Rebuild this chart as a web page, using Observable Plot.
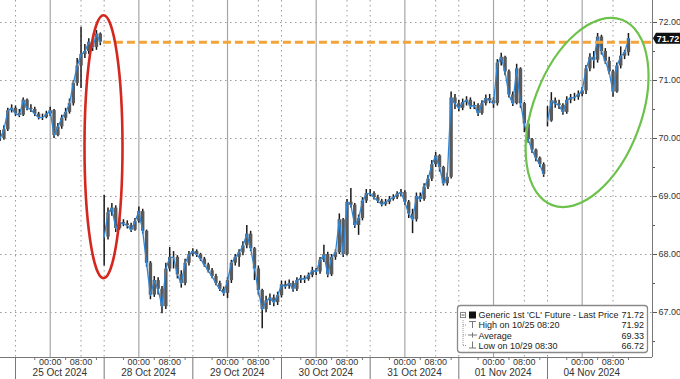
<!DOCTYPE html>
<html><head><meta charset="utf-8">
<script src="https://cdn.jsdelivr.net/npm/d3@7"></script>
<script src="https://cdn.jsdelivr.net/npm/@observablehq/plot@0.6"></script>
<style>
html,body{margin:0;padding:0;background:#fff;}
#chart{position:relative;width:680px;height:379px;overflow:hidden;}
svg{display:block;}
</style></head><body><div id="chart"></div>
<script>
// ---------- data (x = trading-hour index, 23h sessions, weekends collapsed) ----------
const sessionLabels = ["25 Oct 2024","28 Oct 2024","29 Oct 2024","30 Oct 2024","31 Oct 2024","01 Nov 2024","04 Nov 2024"];
const sessionStarts = [0, 23, 46, 69, 92, 115, 138];
const clockLabels = ["00:00", "08:00"];
const clockOffsets = [9, 17];          // hours after session open
const minorOffsets = [5, 13, 21];      // 20:00, 04:00, 12:00
const priceTicks = [67, 68, 69, 70, 71, 72];
const minorPriceTicks = [66.5, 67.5, 68.5, 69.5, 70.5, 71.5];
const weekOpens = [23, 138];
const firstHour = -4;
const close = [
  70.0, 70.15, 70.48, 70.52,
  70.43, 70.4, 70.66, 70.52, 70.5, 70.42, 70.36, 70.36, 70.42, 70.48, 70.05, 70.2, 70.35, 70.45, 70.6, 70.95, 71.25, 71.45, 71.5, 71.66, 71.57, 71.8, 71.66,
  68.3, 68.72, 68.8, 68.45, 68.55, 68.53, 68.5, 68.42, 68.57, 68.74, 68.4, 67.85, 67.3, 67.55, 67.4, 67.1, 67.75, 67.95, 67.95, 67.65, 67.5, 67.85, 68.0,
  68.05, 68.0, 67.92, 67.82, 67.72, 67.62, 67.5, 67.4, 67.33, 67.55, 67.85, 67.95, 68.03, 68.15, 68.35, 68.1, 67.75, 67.38, 67.05, 67.2, 67.25, 67.17, 67.29,
  67.48, 67.45, 67.5, 67.4, 67.55, 67.59, 67.57, 67.64, 67.72, 67.7, 67.9, 68.0, 67.65, 67.95, 68.03, 68.6, 68.0, 68.9, 68.85, 68.5, 68.62, 68.92, 69.05,
  69.05, 68.98, 68.92, 68.86, 68.9, 68.95, 68.98, 69.04, 69.07, 68.9, 68.7, 68.6, 69.0, 68.95, 69.16, 69.3, 69.55, 69.7, 69.5, 69.22, 69.33, 70.7, 70.6,
  70.52, 70.62, 70.66, 70.55, 70.57, 70.43, 70.6, 70.69, 70.65, 70.6, 71.3, 71.4, 71.15, 70.75, 70.6, 71.2, 70.6, 70.25, 69.98, 69.8, 69.66, 69.55, 69.38,
  70.3, 70.65, 70.6, 70.57, 70.45, 70.66, 70.7, 70.71, 70.76, 70.82, 71.2, 71.4, 71.35, 71.75, 71.5, 71.33, 71.15, 70.8, 71.25, 71.42, 71.48, 71.72
];
const high = [
  70.14, 70.22, 70.52, 70.58,
  70.56, 70.5, 70.7, 70.68, 70.58, 70.54, 70.45, 70.42, 70.47, 70.54, 70.5, 70.26, 70.4, 70.52, 70.68, 71.0, 71.38, 71.92, 71.62, 71.72, 71.7, 71.86, 71.82,
  69.02, 68.8, 68.88, 68.84, 68.62, 68.6, 68.58, 68.54, 68.62, 68.82, 68.78, 68.42, 67.88, 67.62, 67.6, 67.45, 67.85, 68.12, 68.05, 67.98, 67.72, 67.92, 68.05,
  68.1, 68.08, 68.02, 67.95, 67.85, 67.76, 67.66, 67.54, 67.44, 67.6, 67.9, 68.0, 68.08, 68.22, 68.5, 68.4, 68.12, 67.8, 67.4, 67.28, 67.32, 67.3, 67.35,
  67.54, 67.54, 67.56, 67.54, 67.6, 67.64, 67.63, 67.68, 67.78, 67.76, 67.95, 68.16, 68.04, 68.0, 68.08, 68.7, 68.62, 68.95, 69.14, 68.88, 68.68, 68.98, 69.12,
  69.12, 69.08, 69.02, 68.95, 68.95, 69.0, 69.03, 69.08, 69.12, 69.1, 68.93, 68.78, 69.06, 69.06, 69.22, 69.36, 69.62, 69.76, 69.72, 69.52, 69.4, 70.8, 70.76,
  70.66, 70.68, 70.72, 70.7, 70.63, 70.6, 70.65, 70.75, 70.76, 70.7, 71.36, 71.47, 71.42, 71.18, 70.8, 71.28, 71.22, 70.62, 70.3, 70.0, 69.82, 69.68, 69.58,
  70.55, 70.79, 70.7, 70.66, 70.6, 70.72, 70.76, 70.78, 70.82, 70.88, 71.26, 71.46, 71.5, 71.81, 71.78, 71.55, 71.4, 71.18, 71.3, 71.58, 71.52, 71.81
];
const low = [
  69.95, 69.97, 70.12, 70.44,
  70.38, 70.36, 70.38, 70.48, 70.45, 70.38, 70.32, 70.31, 70.34, 70.38, 70.0, 70.03, 70.16, 70.3, 70.42, 70.56, 70.9, 70.86, 71.38, 71.45, 71.5, 71.52, 71.6,
  67.8, 68.25, 68.66, 68.38, 68.42, 68.48, 68.44, 68.38, 68.4, 68.54, 68.35, 67.78, 67.22, 67.26, 67.3, 66.98, 67.05, 67.7, 67.75, 67.58, 67.42, 67.46, 67.8,
  67.96, 67.95, 67.88, 67.78, 67.68, 67.58, 67.46, 67.36, 67.28, 67.24, 67.5, 67.8, 67.78, 67.98, 68.1, 68.05, 67.55, 67.3, 66.72, 67.0, 67.12, 67.1, 67.12,
  67.25, 67.4, 67.4, 67.35, 67.36, 67.5, 67.5, 67.54, 67.6, 67.64, 67.66, 67.86, 67.6, 67.62, 67.9, 68.0, 67.95, 67.98, 68.8, 68.45, 68.33, 68.58, 68.88,
  69.0, 68.94, 68.88, 68.82, 68.83, 68.86, 68.92, 68.95, 69.0, 68.85, 68.62, 68.36, 68.56, 68.9, 68.92, 69.12, 69.26, 69.5, 69.42, 69.18, 69.18, 69.3, 70.5,
  70.46, 70.48, 70.56, 70.5, 70.5, 70.38, 70.4, 70.56, 70.6, 70.52, 70.56, 71.25, 71.08, 70.7, 70.55, 70.58, 70.52, 70.1, 69.92, 69.74, 69.6, 69.5, 69.33,
  70.2, 70.28, 70.52, 70.5, 70.4, 70.42, 70.6, 70.64, 70.66, 70.72, 70.76, 71.15, 71.2, 71.3, 71.44, 71.28, 71.1, 70.71, 70.78, 71.2, 71.36, 71.42
];
const lastPrice = 71.72;
const fridayClose = 71.66;
const fridayCloseHour = 22.8;
const legendLabels = ["Generic 1st 'CL' Future - Last Price", "High on 10/25 08:20", "Average", "Low on 10/29 08:30"];
const legendValues = [71.72, 71.92, 69.33, 66.72];
// annotation ellipses (centre in data units)
const redCircle = {t: 22.96, price: 69.85};
const greenCircle = {t: 148.4, price: 70.44};

// ---------- build ----------
const FONT = "'Liberation Sans', Arial, sans-serif";
const xDomain = [-3.891, 165.24];
const yDomain = [66.2241, 72.3793];
const bars = close.map((c, i) => {
  const t = firstHour + i;
  return {
    t, close: c, high: high[i], low: low[i],
    week: t < weekOpens[0] ? 0 : t < weekOpens[1] ? 1 : 2,
    open: (i > 0 && !weekOpens.includes(t)) ? close[i - 1] : c
  };
});
const midnights = sessionStarts.map(s => s + clockOffsets[0]);
const eights = sessionStarts.map(s => s + clockOffsets[1]);
const clockTicks = sessionStarts.flatMap(s => clockOffsets.map(o => s + o));
const minorHours = sessionStarts.flatMap(s => minorOffsets.map(o => s + o));
const sessionCenters = sessionStarts.map(s => s + 11.5);
const clockLabel = t => {
  const off = ((t % 23) + 23) % 23;
  return clockLabels[clockOffsets.indexOf(off)];
};

const chart = Plot.plot({
  width: 680, height: 379,
  marginLeft: 0, marginRight: 28, marginTop: 0, marginBottom: 22,
  style: {fontFamily: FONT, fontSize: "9px", color: "#333", background: "white", overflow: "visible"},
  x: {domain: xDomain, label: null},
  y: {domain: yDomain, label: null},
  marks: [
    Plot.ruleY(priceTicks, {stroke: "#9a9a9a", strokeDasharray: "1.5,3.5", strokeWidth: 1}),
    Plot.ruleX(midnights, {stroke: "#a6a6a6", strokeWidth: 1.2}),
    Plot.ruleX([...eights, ...sessionStarts], {stroke: "#9a9a9a", strokeDasharray: "1.5,3.5", strokeWidth: 1}),
    Plot.ruleX(bars, {x: "t", y1: "low", y2: "high", stroke: "#1a1a1a", strokeWidth: 1.5}),
    Plot.ruleX(bars, {x: "t", y1: "open", y2: "close", stroke: "#5a5a5a", strokeWidth: 3.4}),
    Plot.line(bars, {x: "t", y: "close", z: "week", stroke: "#2f86d8", strokeWidth: 1.3}),
    Plot.ruleY([fridayClose], {x1: fridayCloseHour, x2: xDomain[1], stroke: "#f2a43a", strokeWidth: 3, strokeDasharray: "8,4"}),
    Plot.ruleX([xDomain[1]], {stroke: "#777"}),
    Plot.ruleY([yDomain[0]], {stroke: "#777"}),
    Plot.axisY(priceTicks, {anchor: "right", label: null, tickSize: 4, tickPadding: 2, tickFormat: d => d.toFixed(2), stroke: "#555", fill: "#333"}),
    Plot.axisY(minorPriceTicks, {anchor: "right", label: null, tickSize: 2, tickFormat: () => "", stroke: "#555"}),
    Plot.axisX(sessionStarts, {label: null, tickSize: 22, tickFormat: () => "", stroke: "#777"}),
    Plot.axisX(minorHours, {label: null, tickSize: 3, tickFormat: () => "", stroke: "#777"}),
    Plot.axisX(clockTicks, {label: null, tickSize: 0, tickPadding: 1.5, tickFormat: clockLabel, fill: "#333"}),
    Plot.axisX(sessionCenters, {label: null, tickSize: 0, tickPadding: 11.5, fontSize: 10, tickFormat: t => sessionLabels[sessionCenters.indexOf(t)], fill: "#333"})
  ]
});
document.getElementById("chart").appendChild(chart);

// ---------- annotations using the plot's scales ----------
const mk = s => s.apply ? (v => s.apply(v)) : d3.scaleLinear(s.domain, s.range);
const sx = mk(chart.scale("x")), sy = mk(chart.scale("y"));
const svg = d3.select(chart);

const rcx = sx(redCircle.t), rcy = sy(redCircle.price);
svg.append("ellipse").attr("cx", rcx).attr("cy", rcy).attr("rx", 19).attr("ry", 131.5)
  .attr("fill", "none").attr("stroke", "#d4281f").attr("stroke-width", 2.6);
const gcx = sx(greenCircle.t), gcy = sy(greenCircle.price);
svg.append("ellipse").attr("cx", gcx).attr("cy", gcy).attr("rx", 54).attr("ry", 99)
  .attr("transform", `rotate(20.6 ${gcx} ${gcy})`)
  .attr("fill", "none").attr("stroke", "#6cc24a").attr("stroke-width", 2.2);

// last price tag
const ty = sy(lastPrice), tx = sx(xDomain[1]);
const tag = svg.append("g");
tag.append("path").attr("d", `M${tx + 1},${ty} L${tx + 4},${ty - 5.5} H${tx + 28} V${ty + 5.5} H${tx + 4} Z`).attr("fill", "#111");
tag.append("text").attr("x", tx + 16).attr("y", ty + 3.3).attr("text-anchor", "middle")
  .attr("font-family", FONT).attr("font-size", 9).attr("font-weight", "bold").attr("fill", "#fff").text(lastPrice.toFixed(2));

// legend box
const lg = svg.append("g").attr("font-family", FONT).attr("font-size", 9).attr("fill", "#222").attr("text-anchor", "start");
lg.append("rect").attr("x", 457.5).attr("y", 305.5).attr("width", 190).attr("height", 47).attr("rx", 3)
  .attr("fill", "white").attr("stroke", "#8a8a8a").attr("stroke-width", 1.3);
const rowY = [318, 328, 338.5, 348.5];
lg.append("path").attr("d", "M463,320 V346 M463,325 H467 M463,335 H467 M463,345.5 H467")
  .attr("stroke", "#999").attr("stroke-dasharray", "1,1").attr("fill", "none");
lg.append("rect").attr("x", 460.5).attr("y", 312.5).attr("width", 5).attr("height", 5).attr("fill", "white").attr("stroke", "#888");
lg.append("path").attr("d", "M461.5,315 H464.5").attr("stroke", "#555");
lg.append("rect").attr("x", 469).attr("y", 311.5).attr("width", 7).attr("height", 7).attr("fill", "#111");
lg.append("path").attr("d", "M469,321.5 H476 M472.5,321.5 V328 M468,335 H477 M472.5,332.5 V337.5 M472.5,341.5 V348 M469,348 H476")
  .attr("stroke", "#777").attr("fill", "none");
legendLabels.forEach((l, i) => {
  lg.append("text").attr("x", 478.5).attr("y", rowY[i]).attr("text-anchor", "start").text(l);
  lg.append("text").attr("x", 644).attr("y", rowY[i]).attr("text-anchor", "end").text(legendValues[i].toFixed(2));
});
</script></body></html>
